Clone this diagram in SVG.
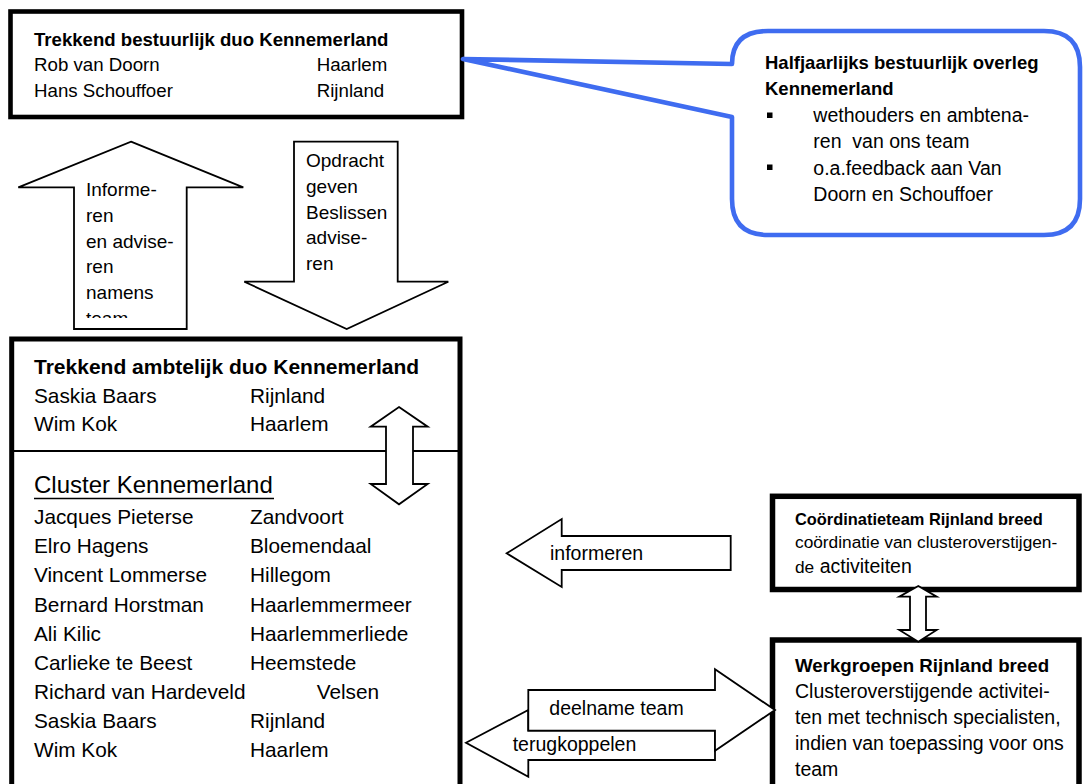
<svg xmlns="http://www.w3.org/2000/svg" width="1084" height="784" viewBox="0 0 1084 784">
<style>
.t{font-family:"Liberation Sans",Arial,sans-serif;fill:#000}
.b{font-weight:bold}
.box{fill:#fff;stroke:#000}
.arr{fill:#fff;stroke:#000;stroke-width:1.8;stroke-linejoin:miter}
.s187{font-size:18.7px}
.s208{font-size:20.8px}
.s19{font-size:19px}
.s195{font-size:19.5px}
</style>
<defs>
<clipPath id="upclip"><rect x="75" y="142" width="111" height="176"/></clipPath>
</defs>
<rect width="1084" height="784" fill="#fff"/>

<g id="top-box">
<rect class="box" x="10.5" y="11.5" width="451.5" height="105.5" stroke-width="4.6"/>
<text class="t b" x="34" y="45.7" font-size="18.6">Trekkend bestuurlijk duo Kennemerland</text>
<text class="t s187" x="34" y="71">Rob van Doorn</text>
<text class="t s187" x="316.7" y="71">Haarlem</text>
<text class="t s187" x="34" y="96.7">Hans Schouffoer</text>
<text class="t s187" x="316.7" y="96.7">Rijnland</text>
</g>

<g id="callout">
<path d="M463,59 L732,64 Q732,31 768,31 L1044,31 Q1080,31 1080,67 L1080,199 Q1080,235 1044,235 L768,235 Q732,235 732,199 L732,117 Z" fill="#fff" stroke="#3F6CF0" stroke-width="4.6" stroke-linejoin="round"/>
<text class="t b" x="765" y="69.3" font-size="18.5">Halfjaarlijks bestuurlijk overleg</text>
<text class="t b" x="765" y="95" font-size="18.5">Kennemerland</text>
<rect x="767" y="112.5" width="5.5" height="5.5" fill="#000"/>
<text class="t s195" x="813.3" y="121.7">wethouders en ambtena-</text>
<text class="t s195" x="813.3" y="148.3" xml:space="preserve">ren  van ons team</text>
<rect x="767" y="164.5" width="5.5" height="5.5" fill="#000"/>
<text class="t s195" x="813.3" y="175">o.a.feedback aan Van</text>
<text class="t s195" x="813.3" y="200.7">Doorn en Schouffoer</text>
</g>

<g id="big-box">
<rect class="box" x="11.7" y="339" width="448.3" height="460" stroke-width="5"/>
<line x1="12" y1="451" x2="460" y2="451" stroke="#000" stroke-width="1.8"/>
<text class="t b" x="34" y="374.3" font-size="21">Trekkend ambtelijk duo Kennemerland</text>
<text class="t s208" x="34" y="402.7">Saskia Baars</text>
<text class="t s208" x="250" y="402.7">Rijnland</text>
<text class="t s208" x="34" y="431">Wim Kok</text>
<text class="t s208" x="250" y="431">Haarlem</text>
<text class="t" x="34" y="493.3" font-size="24">Cluster Kennemerland</text>
<line x1="34" y1="498.5" x2="274" y2="498.5" stroke="#000" stroke-width="1.6"/>
<text class="t s208" x="34" y="524">Jacques Pieterse</text>
<text class="t s208" x="250" y="524">Zandvoort</text>
<text class="t s208" x="34" y="553.2">Elro Hagens</text>
<text class="t s208" x="250" y="553.2">Bloemendaal</text>
<text class="t s208" x="34" y="582.3">Vincent Lommerse</text>
<text class="t s208" x="250" y="582.3">Hillegom</text>
<text class="t s208" x="34" y="611.5">Bernard Horstman</text>
<text class="t s208" x="250" y="611.5">Haarlemmermeer</text>
<text class="t s208" x="34" y="640.7">Ali Kilic</text>
<text class="t s208" x="250" y="640.7">Haarlemmerliede</text>
<text class="t s208" x="34" y="669.8">Carlieke te Beest</text>
<text class="t s208" x="250" y="669.8">Heemstede</text>
<text class="t s208" x="34" y="699">Richard van Hardeveld</text>
<text class="t s208" x="316.7" y="699">Velsen</text>
<text class="t s208" x="34" y="728.2">Saskia Baars</text>
<text class="t s208" x="250" y="728.2">Rijnland</text>
<text class="t s208" x="34" y="757.3">Wim Kok</text>
<text class="t s208" x="250" y="757.3">Haarlem</text>
</g>

<g id="coordinatieteam">
<rect class="box" x="772.5" y="496.3" width="306.5" height="93.2" stroke-width="5.5"/>
<text class="t b" x="795" y="525" font-size="16.4">Coördinatieteam Rijnland breed</text>
<text class="t" x="795" y="548.3" font-size="17.3">coördinatie van clusteroverstijgen-</text>
<text class="t" x="795" y="573.3" font-size="19.5"><tspan font-size="17.3">de</tspan> activiteiten</text>
</g>

<g id="werkgroepen">
<rect class="box" x="772.5" y="640" width="306.5" height="160" stroke-width="5.5"/>
<text class="t b" x="795" y="671.7" font-size="18.7">Werkgroepen Rijnland breed</text>
<text class="t s195" x="795" y="698">Clusteroverstijgende activitei-</text>
<text class="t s195" x="795" y="724">ten met technisch specialisten,</text>
<text class="t s195" x="795" y="750">indien van toepassing voor ons</text>
<text class="t s195" x="795" y="776">team</text>
</g>

<g id="connectors">
<g id="arrow-informeren-up">
<polygon class="arr" points="131,141.7 243.3,187.3 186.7,187.3 186.7,329 74,329 74,187.3 18.3,187.3"/>
<g clip-path="url(#upclip)">
<text class="t s19" x="86" y="195.7">Informe-</text>
<text class="t s19" x="86" y="221.6">ren</text>
<text class="t s19" x="86" y="247.5">en advise-</text>
<text class="t s19" x="86" y="273.4">ren</text>
<text class="t s19" x="86" y="299.3">namens</text>
<text class="t s19" x="86" y="325.2">team</text>
</g>
</g>
<g id="arrow-opdracht-down">
<polygon class="arr" points="294,141.7 397.7,141.7 397.7,281.7 448.3,281.7 346.7,329 244.3,281.7 294,281.7"/>
<text class="t s19" x="306" y="166.7">Opdracht</text>
<text class="t s19" x="306" y="192.6">geven</text>
<text class="t s19" x="306" y="218.5">Beslissen</text>
<text class="t s19" x="306" y="244.4">advise-</text>
<text class="t s19" x="306" y="270.3">ren</text>
</g>
<polygon id="arrow-duo-cluster" class="arr" points="399,407 427.7,426.7 413,426.7 413,484 427.7,484 399,504.3 370.7,484 386,484 386,426.7 370.7,426.7"/>
<g id="arrow-informeren">
<polygon class="arr" points="506.7,553.3 561.7,519 561.7,536 730.7,536 730.7,570 561.7,570 561.7,587"/>
<text class="t s195" x="550" y="560">informeren</text>
</g>
<g id="arrow-terugkoppelen">
<polygon class="arr" points="466,742.7 528.3,710 528.3,730.7 715,730.7 715,760 528.3,760 528.3,776.7"/>
<text class="t s195" x="512.7" y="750.7">terugkoppelen</text>
</g>
<g id="arrow-deelname">
<polygon class="arr" points="528.3,690 715,690 715,669.3 775,710 715,750.7 715,730.7 528.3,730.7"/>
<text class="t s195" x="549.3" y="715">deelname team</text>
</g>
<polygon id="arrow-coord-werk" class="arr" points="918.3,586 936.7,596.7 926,596.7 926,630 936.7,630 918.3,641.7 899.3,630 910,630 910,596.7 899.3,596.7"/>
</g>
</svg>
